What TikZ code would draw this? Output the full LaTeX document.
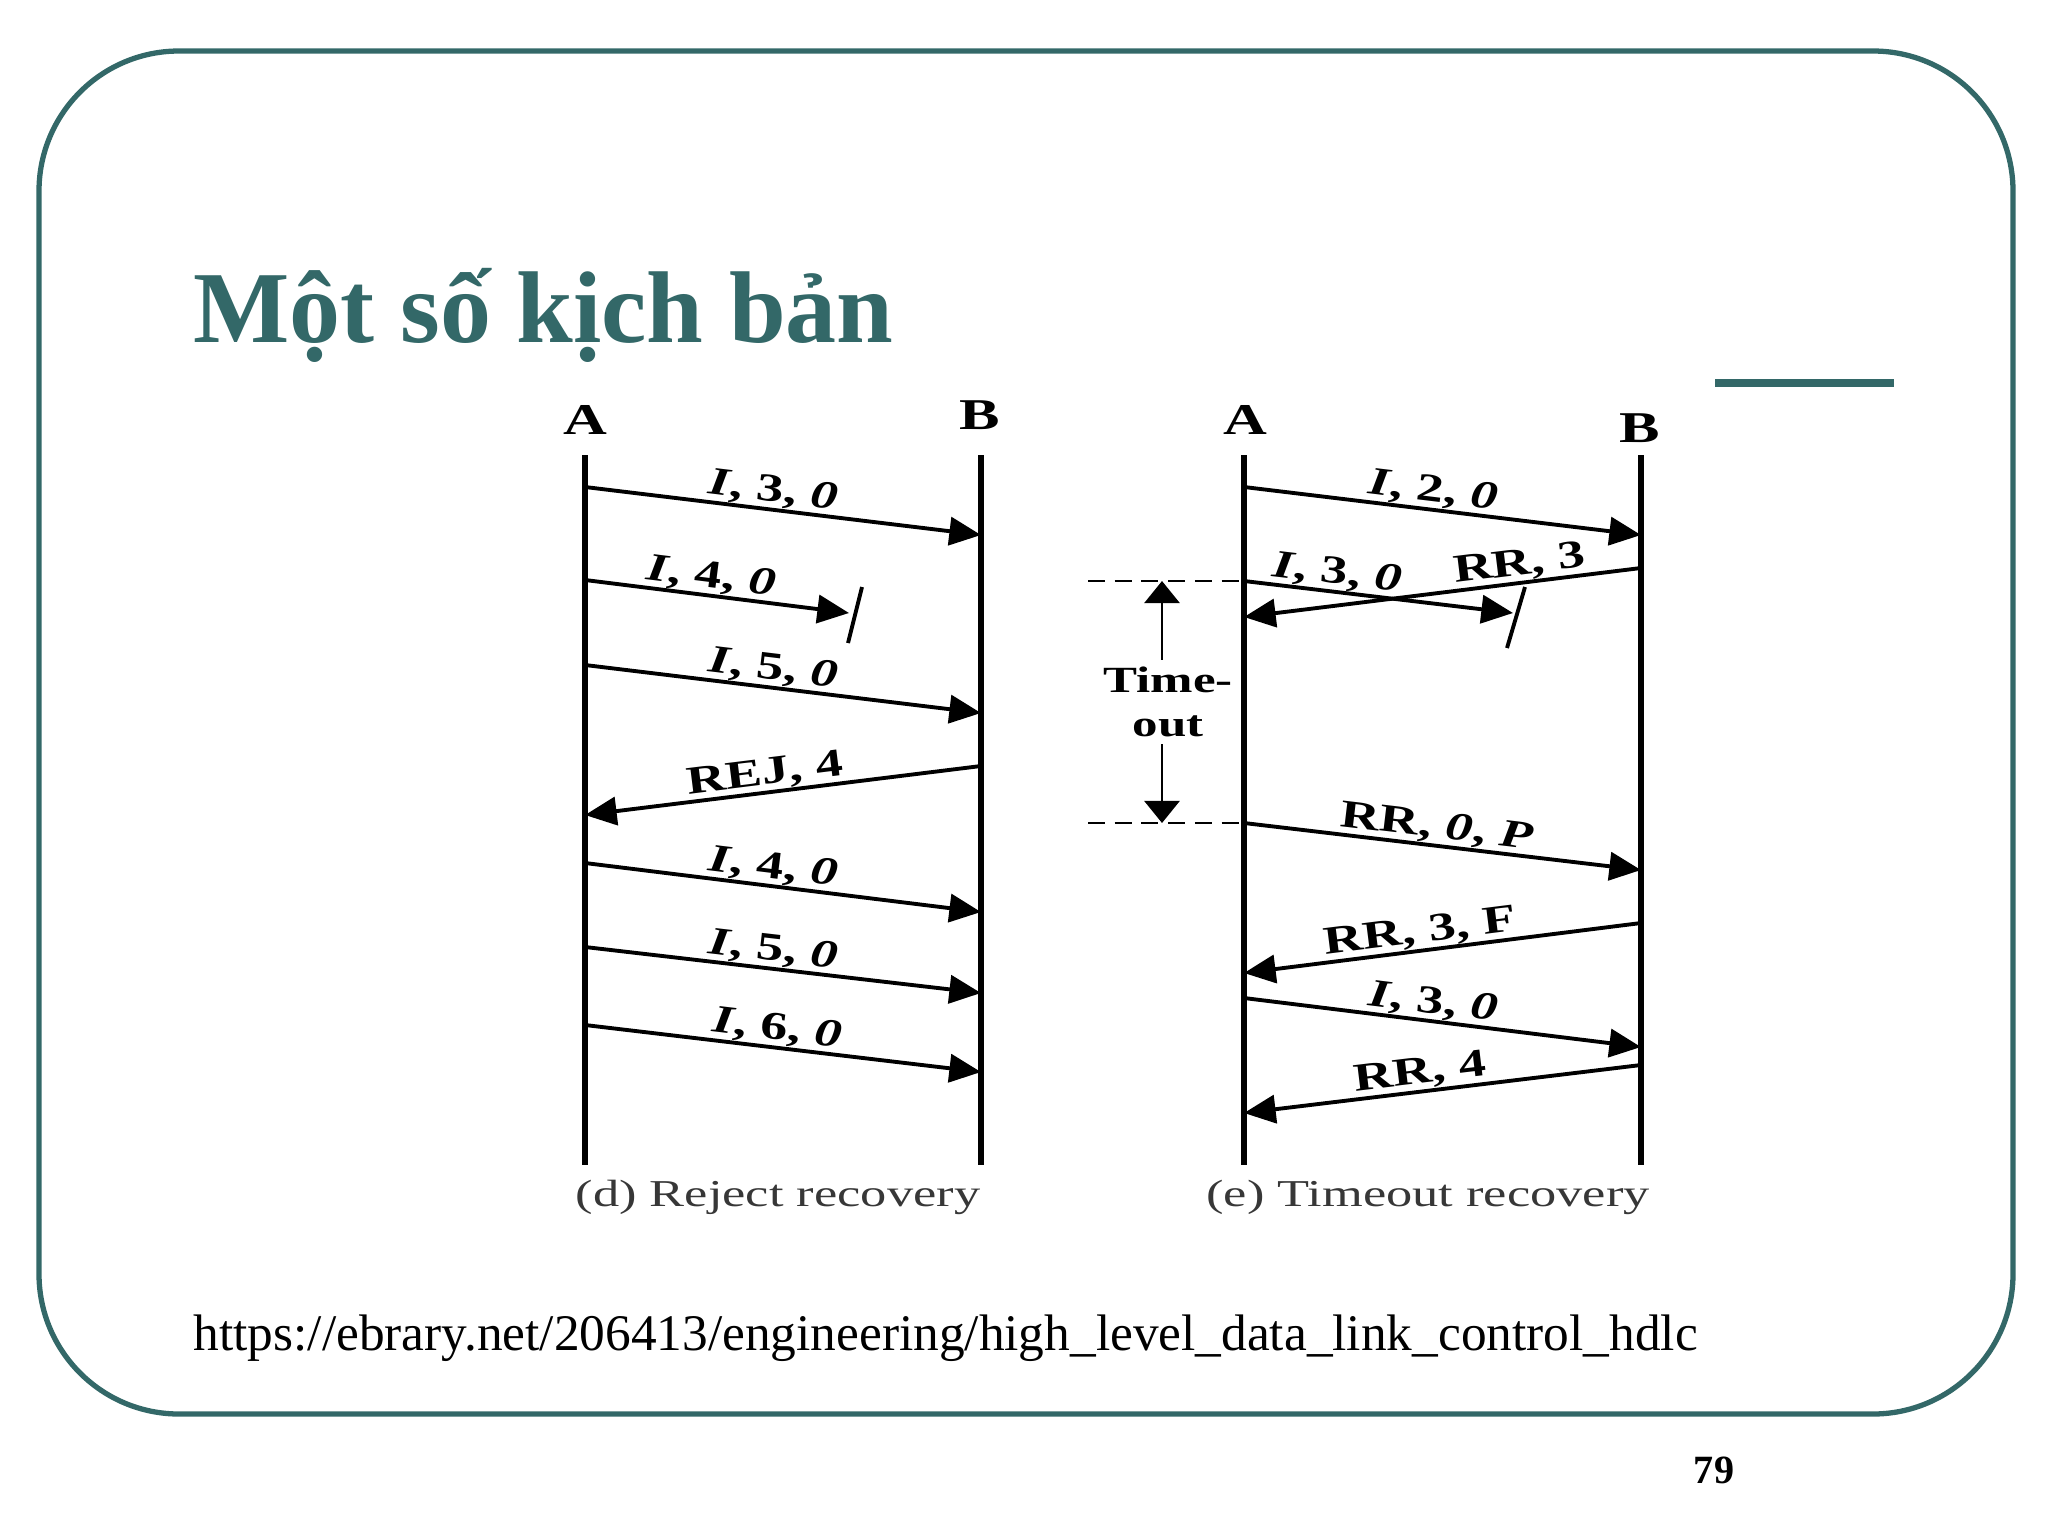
\documentclass[tikz,border=0pt]{standalone}
\usepackage{fontspec}
\setmainfont{Liberation Serif}
\newfontfamily\figfont[FakeStretch=1.38]{Liberation Serif}
\usepackage{xcolor}
\usepackage{tikz}
\usetikzlibrary{arrows.meta, positioning, calc}
\definecolor{SlideTeal}{RGB}{51, 104, 104}
\definecolor{CaptionGray}{RGB}{55, 55, 55}

\tikzset{
  slideframe/.style={draw=SlideTeal, line width=1.5pt, rounded corners=1.4cm},
  lifeline/.style={line width=1.6pt},
  msg/.style={line width=1.1pt, -{Triangle[length=9pt, width=8pt]}},
  lostmark/.style={line width=1.1pt},
  msglabel/.style={font=\figfont\bfseries\fontsize{11.2}{13}\selectfont, sloped, above, inner sep=0pt},
  party/.style={font=\figfont\bfseries\fontsize{12.5}{14}\selectfont, inner sep=0pt},
  caption/.style={font=\figfont\fontsize{10.8}{12}\selectfont, text=CaptionGray},
  timerline/.style={line width=0.8pt, dash pattern=on 4.8pt off 2.8pt},
  timerarrow/.style={line width=0.8pt, -{Triangle[length=6.3pt, width=10pt]}}
}

\begin{document}
\begin{tikzpicture}[x=0.01cm, y=-0.01cm]
  \useasboundingbox (0,0) rectangle (2048,1536);
  \draw[slideframe] (39,51) rectangle (2013,1414);

  % title and the short bar
  \node[anchor=base west, inner sep=0pt, text=SlideTeal,
    font=\bfseries\fontsize{29}{34}\selectfont] (title) at (193,342) {Một số kịch bản};
  \coordinate (barL) at (1715,383);
  \coordinate (barR) at (1894,383);
  \draw[SlideTeal, line width=2.3pt] (barL) -- (barR);

  % (d) reject recovery
  \node[party] (dA) at (585,420) {A};
  \node[party] (dB) at (980,415) {B};
  \coordinate (dAtop) at (585,455);  \coordinate (dAend) at (585,1165);
  \coordinate (dBtop) at (981,455);  \coordinate (dBend) at (981,1165);
  \draw[lifeline, line width=1.9pt] (dAtop) -- (dAend);
  \draw[lifeline, line width=1.9pt] (dBtop) -- (dBend);

  \coordinate (d1a) at (585,487);  \coordinate (d1b) at (981,535);
  \coordinate (d2a) at (585,580);  \coordinate (d2x) at (849,613);
  \coordinate (d3a) at (585,665);  \coordinate (d3b) at (981,713);
  \coordinate (d4b) at (981,766);  \coordinate (d4a) at (585,815);
  \coordinate (d5a) at (585,863);  \coordinate (d5b) at (981,912);
  \coordinate (d6a) at (585,947);  \coordinate (d6b) at (981,993);
  \coordinate (d7a) at (585,1025); \coordinate (d7b) at (981,1072);

  \draw[msg] (d1a) -- node[msglabel, pos=0.47] {\textit{I}, 3, \textit{0}} (d1b);
  \draw[msg] (d2a) -- node[msglabel, pos=0.47] {\textit{I}, 4, \textit{0}} (d2x);
  \draw[lostmark] ($(d2x)+(13,-26)$) -- ($(d2x)+(-1,30)$);
  \draw[msg] (d3a) -- node[msglabel, pos=0.47] {\textit{I}, 5, \textit{0}} (d3b);
  \draw[msg] (d4b) -- node[msglabel, pos=0.54] {REJ, 4} (d4a);
  \draw[msg] (d5a) -- node[msglabel, pos=0.47] {\textit{I}, 4, \textit{0}} (d5b);
  \draw[msg] (d6a) -- node[msglabel, pos=0.47] {\textit{I}, 5, \textit{0}} (d6b);
  \draw[msg] (d7a) -- node[msglabel, pos=0.48] {\textit{I}, 6, \textit{0}} (d7b);
  \node[caption] (dcap) at (778,1197) {(d) Reject recovery};

  % (e) timeout recovery
  \node[party] (eA) at (1245,420) {A};
  \node[party] (eB) at (1640,428) {B};
  \coordinate (eAtop) at (1244,455); \coordinate (eAend) at (1244,1165);
  \coordinate (eBtop) at (1641,455); \coordinate (eBend) at (1641,1165);
  \draw[lifeline] (eAtop) -- (eAend);
  \draw[lifeline] (eBtop) -- (eBend);

  \coordinate (e1a) at (1244,487);  \coordinate (e1b) at (1641,535);
  \coordinate (e2a) at (1244,581);  \coordinate (e2x) at (1513,613);
  \coordinate (e3b) at (1641,568);  \coordinate (e3a) at (1244,617);
  \coordinate (e4a) at (1244,823);  \coordinate (e4b) at (1641,870);
  \coordinate (e5b) at (1641,923);  \coordinate (e5a) at (1244,973);
  \coordinate (e6a) at (1244,998);  \coordinate (e6b) at (1641,1047);
  \coordinate (e7b) at (1641,1065); \coordinate (e7a) at (1244,1113);

  \draw[msg] (e1a) -- node[msglabel, pos=0.47] {\textit{I}, 2, \textit{0}} (e1b);
  \draw[msg] (e2a) -- node[msglabel, pos=0.34] {\textit{I}, 3, \textit{0}} (e2x);
  \draw[lostmark] ($(e2x)+(12,-26)$) -- ($(e2x)+(-6,35)$);
  \draw[msg] (e3b) -- node[msglabel, pos=0.30] {RR, 3} (e3a);
  \draw[msg] (e4a) -- node[msglabel, pos=0.48] {RR, \textit{0}, \textit{P}} (e4b);
  \draw[msg] (e5b) -- node[msglabel, pos=0.55] {RR, 3, F} (e5a);
  \draw[msg] (e6a) -- node[msglabel, pos=0.47] {\textit{I}, 3, \textit{0}} (e6b);
  \draw[msg] (e7b) -- node[msglabel, pos=0.55] {RR, 4} (e7a);

  % timer
  \coordinate (toTopL) at (1088,581);
  \coordinate (toBotL) at (1088,823);
  \coordinate (toTop) at (1162,581);
  \coordinate (toBot) at (1162,823);
  \draw[timerline] (toTopL) -- (e2a);
  \draw[timerline] (toBotL) -- (e4a);
  \node[font=\figfont\bfseries\fontsize{10.5}{12.3}\selectfont, align=center,
    inner sep=2pt] (timeout) at (1168,702) {Time-\\out};
  \draw[timerarrow] (timeout.north -| toTop) -- (toTop);
  \draw[timerarrow] (timeout.south -| toBot) -- (toBot);
  \node[caption] (ecap) at (1428,1197) {(e) Timeout recovery};

  % source and page number
  \node[anchor=base west, inner sep=0pt, font=\fontsize{14.6}{17}\selectfont] (url)
    at (193,1350) {https://ebrary.net/206413/engineering/high\_level\_data\_link\_control\_hdlc};
  \node[font=\bfseries\fontsize{11.4}{13}\selectfont] (pageno) at (1714,1470) {79};
\end{tikzpicture}
\end{document}
